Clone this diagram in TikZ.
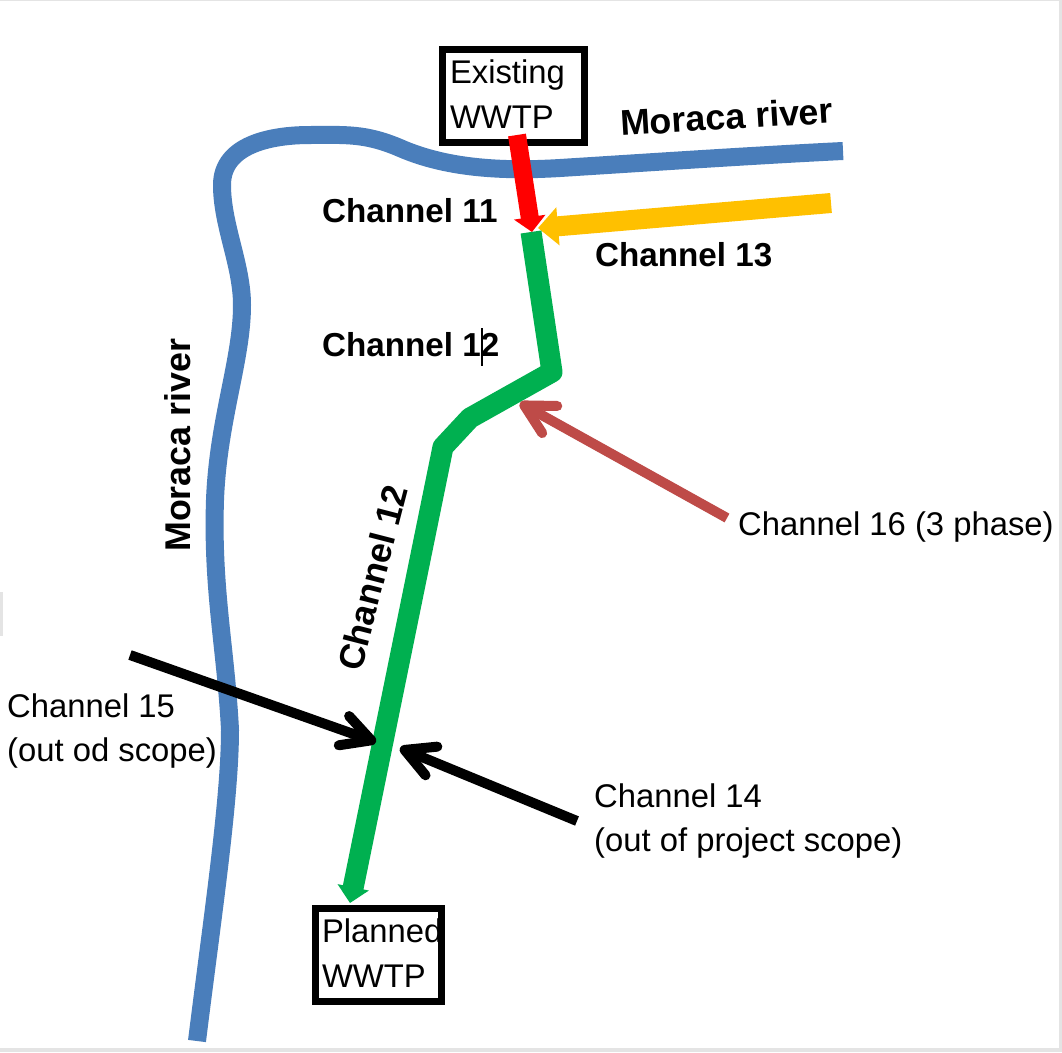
\documentclass[tikz,border=0pt]{standalone}
\usepackage{fontspec}
\setmainfont{Liberation Sans}
\usetikzlibrary{arrows.meta}
\definecolor{river}{HTML}{4A7EBB}
\definecolor{chgreen}{HTML}{00B050}
\definecolor{chyellow}{HTML}{FFC000}
\definecolor{chbrown}{HTML}{BE4B48}
\definecolor{edgegrey}{HTML}{E4E4E4}
\newcommand{\topstrut}{\rule{0pt}{34pt}}
\newcommand{\botstrut}{\rule[-14pt]{0pt}{14pt}}
\tikzset{
  x=1pt,y=-1pt,
  lbl/.style={anchor=base west,inner sep=0pt,align=left,font=\fontsize{32.8}{44}\selectfont},
  blbl/.style={anchor=base west,inner sep=0pt,font=\fontsize{33.2}{40}\selectfont\bfseries},
  tlbl/.style={inner sep=0pt,font=\fontsize{35.8}{40}\selectfont\bfseries},
  plant/.style={draw=black,line width=7pt,fill=white,anchor=north west,align=left,inner ysep=0pt,
    font=\fontsize{32.8}{45}\selectfont},
  riverline/.style={draw=river,line width=18pt,line join=round},
  thick channel/.style={line width=10pt,line cap=butt},
  open tip/.style={-{Straight Barb[length=29pt,width=31pt,round]}},
}
\begin{document}
\begin{tikzpicture}
\useasboundingbox (0,0) rectangle (1062,1052);
\fill[white] (0,0) rectangle (1062,1052);
\fill[edgegrey] (0,1048) rectangle (1062,1052);
\fill[edgegrey] (1059,0) rectangle (1062,1052);
\fill[edgegrey] (0,0) rectangle (1062,1);
\fill[edgegrey] (0,592) rectangle (3,636);

% river
\draw[riverline] (843,151) .. controls (760,155) and (640,163) .. (560,168)
  .. controls (510,171) and (450,170) .. (400,148)
  .. controls (365,133) and (345,135) .. (310,135)
  .. controls (270,135) and (222,145) .. (222,185)
  .. controls (222,225) and (242,265) .. (242,305)
  .. controls (242,360) and (218,420) .. (215,500)
  .. controls (212,590) and (226,650) .. (230,730)
  .. controls (230,800) and (212,920) .. (197,1041);

% boxes
\node[plant,inner xsep=7.5pt,text width=127pt] (existing) at (439,46) {\topstrut Existing\\\botstrut WWTP};
\node[plant,inner xsep=6.5pt,text width=113pt] (planned) at (312,905) {\topstrut Planned\\\botstrut WWTP};

% junction and end coordinates
\coordinate (r1) at (517,135);
\coordinate (r2) at (532,232);
\coordinate (y1) at (831,203);
\coordinate (y2) at (538,228);
\coordinate (g1) at (531,232);
\coordinate (g2) at (552,372);
\coordinate (g3) at (470,418);
\coordinate (g4) at (443,447);
\coordinate (g5) at (350,903);
\coordinate (b1) at (727,518);
\coordinate (b2) at (520,403);
\coordinate (k1) at (130,655);
\coordinate (k2) at (376,742);
\coordinate (m1) at (577,821);
\coordinate (m2) at (400,748);
\coordinate (c1) at (482,328);
\coordinate (c2) at (482,366);

% channels
\draw[line width=18pt,draw=red,-{Triangle[length=15pt,width=31pt]}] (r1) -- (r2);
\draw[line width=20pt,draw=chyellow,-{Triangle[length=20pt,width=37pt]}] (y1) -- (y2);
\draw[line width=21pt,draw=chgreen,line join=round,-{Triangle[length=16pt,width=31pt]}]
  (g1) -- (g2) -- (g3) -- (g4) -- (g5);
\draw[thick channel,draw=chbrown,open tip] (b1) -- (b2);
\draw[thick channel,draw=black,open tip] (k1) -- (k2);
\draw[thick channel,draw=black,open tip] (m1) -- (m2);

% labels
\node[tlbl,rotate=3.5,anchor=base west] (mr1) at (621,136) {Moraca river};
\node[tlbl,rotate=90,anchor=base west] (mr2) at (190,552) {Moraca river};
\node[tlbl,rotate=75.5,anchor=base west,font=\fontsize{35.5}{40}\selectfont\bfseries] (ch12b) at (361,673) {Channel 12};
\node[blbl] (ch11) at (322,222) {Channel 11};
\node[blbl] (ch12a) at (322,356) {Channel 12};
\node[blbl] (ch13) at (595,266) {Channel 13};
\node[lbl] (ch16) at (738,535) {Channel 16 (3 phase)};
\node[lbl] (ch15) at (7,761) {Channel 15\\(out od scope)};
\node[lbl] (ch14) at (594,851) {Channel 14\\(out of project scope)};
\draw[black,line width=1.2pt] (c1) -- (c2);
\end{tikzpicture}
\end{document}
